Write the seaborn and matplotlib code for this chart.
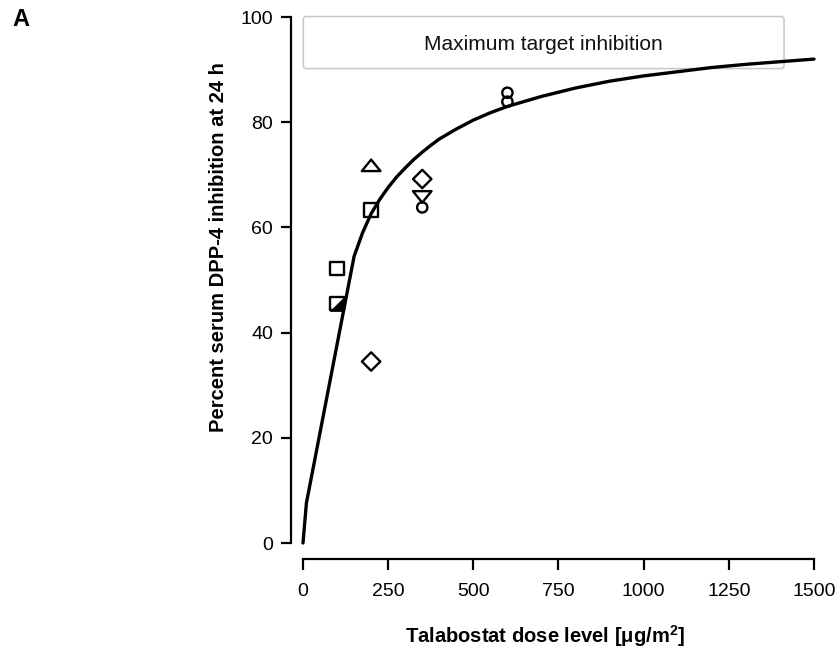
import matplotlib
matplotlib.use("Agg")
import matplotlib.pyplot as plt
from matplotlib.patches import FancyBboxPatch
from matplotlib.path import Path
import seaborn as sns

# ---- data ----
curve_dose = [0, 10, 150, 175, 200, 225, 250, 275, 300, 325, 350, 375, 400,
              450, 500, 550, 600, 700, 800, 900, 1000, 1100, 1200, 1300,
              1400, 1500]
curve_inhib = [0, 7.6, 54.5, 59.0, 62.6, 65.3, 67.6, 69.6, 71.3, 72.9, 74.3,
               75.6, 76.8, 78.7, 80.4, 81.8, 83.0, 84.9, 86.5, 87.8, 88.8,
               89.6, 90.4, 91.0, 91.5, 92.0]

square_dose = [100, 100, 200]
square_inhib = [52.2, 45.5, 63.3]
tri_up_dose = [200]
tri_up_inhib = [71.8]
diamond_dose = [200, 350]
diamond_inhib = [34.5, 69.2]
tri_down_dose = [350]
tri_down_inhib = [65.8]
circle_dose = [350, 600, 600]
circle_inhib = [63.8, 85.6, 83.9]
halffill_dose = [100]
halffill_inhib = [45.5]

x_ticks = [0, 250, 500, 750, 1000, 1250, 1500]
y_ticks = [0, 20, 40, 60, 80, 100]
box_text = "Maximum target inhibition"
x_label = "Talabostat dose level [\u03bcg/m$^\\mathregular{2}$]"
y_label = "Percent serum DPP-4 inhibition at 24 h"
panel = "A"

# ---- styling ----
sns.set_theme(style="ticks")
plt.rcParams["font.family"] = ["Liberation Sans", "DejaVu Sans"]
plt.rcParams["mathtext.fontset"] = "custom"
plt.rcParams["mathtext.rm"] = "Liberation Sans:bold"
plt.rcParams["text.color"] = "black"
plt.rcParams["axes.labelcolor"] = "black"

W, H = 840, 650
fig = plt.figure(figsize=(W / 100, H / 100), dpi=100)
ax = fig.add_axes([303 / W, 1 - 543 / H, 511 / W, 526 / H])

# box "Maximum target inhibition"
box = FancyBboxPatch((1, 90.2), 1411, 9.9,
                     boxstyle="round,pad=0,rounding_size=9",
                     mutation_aspect=0.0648,
                     facecolor="white", edgecolor="#c8c8c8", linewidth=1.1,
                     zorder=1, clip_on=False)
ax.add_patch(box)
ax.text(706, 94.8, box_text, ha="center", va="center", fontsize=15,
        color="#111111", zorder=2)

# fitted curve
sns.lineplot(x=curve_dose, y=curve_inhib, ax=ax, color="black",
             linewidth=2.4, estimator=None, sort=False, zorder=3,
             clip_on=False)


def closed(verts):
    return Path(verts + [verts[0]],
                [Path.MOVETO] + [Path.LINETO] * (len(verts) - 1)
                + [Path.CLOSEPOLY])


tri_up_marker = closed([(-1.3, -0.8), (1.3, -0.8), (0, 0.8)])
tri_down_marker = closed([(-1.3, 0.8), (1.3, 0.8), (0, -0.8)])
half_marker = closed([(-1, -1), (1, -1), (1, 1)])

common = dict(ax=ax, facecolor="none", edgecolor="black", linewidth=1.7,
              zorder=4, clip_on=False, legend=False)
sns.scatterplot(x=square_dose, y=square_inhib, marker="s", s=95, **common)
sns.scatterplot(x=tri_up_dose, y=tri_up_inhib, marker=tri_up_marker, s=180,
                **common)
sns.scatterplot(x=diamond_dose, y=diamond_inhib, marker="D", s=88, **common)
sns.scatterplot(x=tri_down_dose, y=tri_down_inhib, marker=tri_down_marker,
                s=180, **common)
sns.scatterplot(x=circle_dose, y=circle_inhib, marker="o", s=55, **common)
sns.scatterplot(x=halffill_dose, y=halffill_inhib,
                marker=half_marker, s=95, ax=ax,
                color="black", edgecolor="black", linewidth=0.5,
                zorder=5, clip_on=False, legend=False)

ax.set_xlim(0, 1500)
ax.set_ylim(0, 100)
ax.set_xticks(x_ticks)
ax.set_yticks(y_ticks)
ax.set_xticklabels([str(t) for t in x_ticks])
ax.set_yticklabels([str(t) for t in y_ticks])

sns.despine(ax=ax, offset=dict(left=8.6, bottom=11.5))
ax.spines["left"].set_bounds(0, 100)
ax.spines["bottom"].set_bounds(0, 1500)
for sp in ("left", "bottom"):
    ax.spines[sp].set_linewidth(1.6)
    ax.spines[sp].set_color("black")

ax.tick_params(axis="y", length=7, width=1.6, pad=6, labelsize=14,
               colors="black")
ax.tick_params(axis="x", length=8, width=1.6, pad=9, labelsize=14,
               colors="black")

ax.set_xlabel(x_label, fontsize=14.5, fontweight="bold", color="black")
ax.set_ylabel(y_label, fontsize=14.5, fontweight="bold", color="black")
ax.xaxis.set_label_coords(0.474, -0.152)
ax.yaxis.set_label_coords(-0.147, 0.562)
ax.patch.set_alpha(0)

fig.text(21 / W, 1 - 20 / H, panel, ha="center", va="center",
         fontsize=17, fontweight="bold", color="black")

fig.savefig("out.png", dpi=100)
